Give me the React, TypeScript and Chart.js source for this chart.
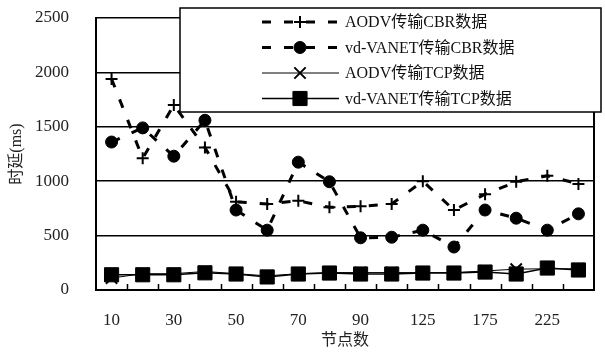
import React, { useEffect, useRef } from 'react';
import { Chart, registerables } from 'chart.js';
import { drawPoint } from 'chart.js/helpers';

Chart.register(...registerables);

const categories = ['10', '20', '30', '40', '50', '60', '70', '80', '90', '100', '125', '150', '175', '200', '225', '250'];
const aodvCbr = [1940, 1210, 1700, 1310, 810, 790, 820, 760, 770, 790, 1000, 735, 880, 995, 1050, 975];
const vdCbr = [1360, 1490, 1230, 1560, 735, 550, 1175, 995, 480, 485, 550, 395, 735, 660, 550, 700];
const aodvTcp = [110, 150, 150, 170, 150, 130, 150, 160, 160, 160, 160, 160, 175, 192, 195, 195];
const vdTcp = [140, 140, 140, 158, 147, 120, 147, 156, 147, 147, 156, 156, 165, 147, 202, 184];
const yTickValues = [0, 500, 1000, 1500, 2000, 2500];
const seriesLabels = ['AODV传输CBR数据', 'vd-VANET传输CBR数据', 'AODV传输TCP数据', 'vd-VANET传输TCP数据'];
const xTitle = '节点数';
const yTitle = '时延(ms)';

const FONT = "'Liberation Serif', 'Noto Sans CJK SC', serif";

const innerTicksPlugin = {
  id: 'innerTicks',
  afterDatasetsDraw(chart: any) {
    const { ctx, chartArea } = chart;
    const xs = chart.scales.x;
    const n = categories.length;
    ctx.save();
    ctx.strokeStyle = '#000';
    ctx.lineWidth = 1.5;
    ctx.beginPath();
    for (let i = 1; i < n; i++) {
      const x = Math.round(xs.left + (i * (xs.right - xs.left)) / n) + 0.5;
      ctx.moveTo(x, chartArea.bottom);
      ctx.lineTo(x, chartArea.bottom - 6);
    }
    ctx.stroke();
    ctx.beginPath();
    ctx.lineWidth = 2;
    ctx.moveTo(chartArea.right, chartArea.top);
    ctx.lineTo(chartArea.right, chartArea.bottom);
    ctx.stroke();
    ctx.restore();
  },
};

const legendPlugin = {
  id: 'boxLegend',
  afterDraw(chart: any) {
    const { ctx } = chart;
    const bx = 180, by = 8, bw = 421, bh = 104;
    ctx.save();
    ctx.fillStyle = '#fff';
    ctx.fillRect(bx, by, bw, bh);
    ctx.strokeStyle = '#000';
    ctx.lineWidth = 1.5;
    ctx.strokeRect(bx, by, bw, bh);
    const rowY = [22, 47.5, 73, 98.5];
    chart.data.datasets.forEach((ds: any, i: number) => {
      const y = rowY[i];
      ctx.save();
      ctx.strokeStyle = ds.borderColor;
      ctx.lineWidth = ds.borderWidth;
      ctx.setLineDash(ds.borderDash || []);
      ctx.beginPath();
      ctx.moveTo(262, y);
      ctx.lineTo(339, y);
      ctx.stroke();
      ctx.restore();
      ctx.save();
      ctx.setLineDash([]);
      ctx.fillStyle = ds.pointBackgroundColor;
      ctx.strokeStyle = ds.pointBorderColor;
      ctx.lineWidth = ds.pointBorderWidth;
      drawPoint(ctx, { pointStyle: ds.pointStyle, radius: ds.pointRadius, borderWidth: ds.pointBorderWidth, rotation: 0 }, 300, y);
      ctx.restore();
      ctx.fillStyle = '#111';
      ctx.font = `16px ${FONT}`;
      ctx.textBaseline = 'middle';
      ctx.textAlign = 'left';
      ctx.fillText(ds.label, 345, y + 1);
    });
    ctx.restore();
  },
};

export default function App() {
  const ref = useRef<HTMLCanvasElement | null>(null);
  useEffect(() => {
    if (!ref.current) return;
    const chart = new Chart(ref.current, {
      type: 'line',
      data: {
        labels: categories,
        datasets: [
          {
            label: seriesLabels[0],
            data: aodvCbr,
            borderColor: '#000',
            borderWidth: 3,
            borderDash: [9, 13],
            pointStyle: 'cross',
            pointRadius: 6,
            pointBorderWidth: 2,
            pointBackgroundColor: '#000',
            pointBorderColor: '#000',
            order: 3,
          },
          {
            label: seriesLabels[1],
            data: vdCbr,
            borderColor: '#000',
            borderWidth: 3,
            borderDash: [9, 13],
            pointStyle: 'circle',
            pointRadius: 6,
            pointBorderWidth: 1,
            pointBackgroundColor: '#000',
            pointBorderColor: '#000',
            order: 4,
          },
          {
            label: seriesLabels[2],
            data: aodvTcp,
            borderColor: '#000',
            borderWidth: 1,
            pointStyle: 'crossRot',
            pointRadius: 8,
            pointBorderWidth: 2,
            pointBackgroundColor: '#000',
            pointBorderColor: '#000',
            order: 2,
          },
          {
            label: seriesLabels[3],
            data: vdTcp,
            borderColor: '#000',
            borderWidth: 1.5,
            pointStyle: 'rect',
            pointRadius: 10,
            pointBorderWidth: 1,
            pointBackgroundColor: '#000',
            pointBorderColor: '#000',
            order: 1,
          },
        ],
      },
      options: {
        animation: false,
        responsive: false,
        maintainAspectRatio: false,
        layout: { padding: { top: 18, right: 2, left: 0, bottom: 0 } },
        plugins: { legend: { display: false }, tooltip: { enabled: false } },
        elements: { line: { tension: 0 } },
        scales: {
          x: {
            type: 'category',
            offset: true,
            grid: { display: false, drawTicks: false },
            border: { display: true, color: '#000', width: 2 },
            ticks: {
              autoSkip: false,
              maxRotation: 0,
              padding: 20,
              color: '#222',
              font: { family: FONT, size: 17 },
              callback: (_v: any, i: number) => (i % 2 === 0 ? categories[i] : ''),
            },
            title: {
              display: true,
              text: xTitle,
              color: '#222',
              font: { family: FONT, size: 16 },
              padding: { top: 0, bottom: 7 },
            },
            afterFit: (s: any) => {
              s.height = 67;
              s.paddingLeft = 0;
              s.paddingRight = 0;
            },
          },
          y: {
            min: 0,
            max: 2500,
            afterBuildTicks: (s: any) => {
              s.ticks = yTickValues.map((v) => ({ value: v }));
            },
            grid: { color: '#000', lineWidth: 1.5, drawTicks: false },
            border: { display: true, color: '#000', width: 2 },
            ticks: {
              padding: 27,
              color: '#222',
              font: { family: FONT, size: 17 },
              callback: (v: any) => String(v),
            },
            title: {
              display: true,
              text: yTitle,
              color: '#222',
              font: { family: FONT, size: 16 },
              padding: { top: 7, bottom: 0 },
            },
            afterFit: (s: any) => {
              s.width = 96;
              s.paddingTop = 0;
              s.paddingBottom = 0;
            },
          },
        },
      },
      plugins: [innerTicksPlugin, legendPlugin],
    });
    return () => chart.destroy();
  }, []);
  return (
    <div style={{ position: 'fixed', left: 0, top: 0, width: 605, height: 357, background: '#fff' }}>
      <canvas ref={ref} width={605} height={357} style={{ width: 605, height: 357 }} />
    </div>
  );
}
